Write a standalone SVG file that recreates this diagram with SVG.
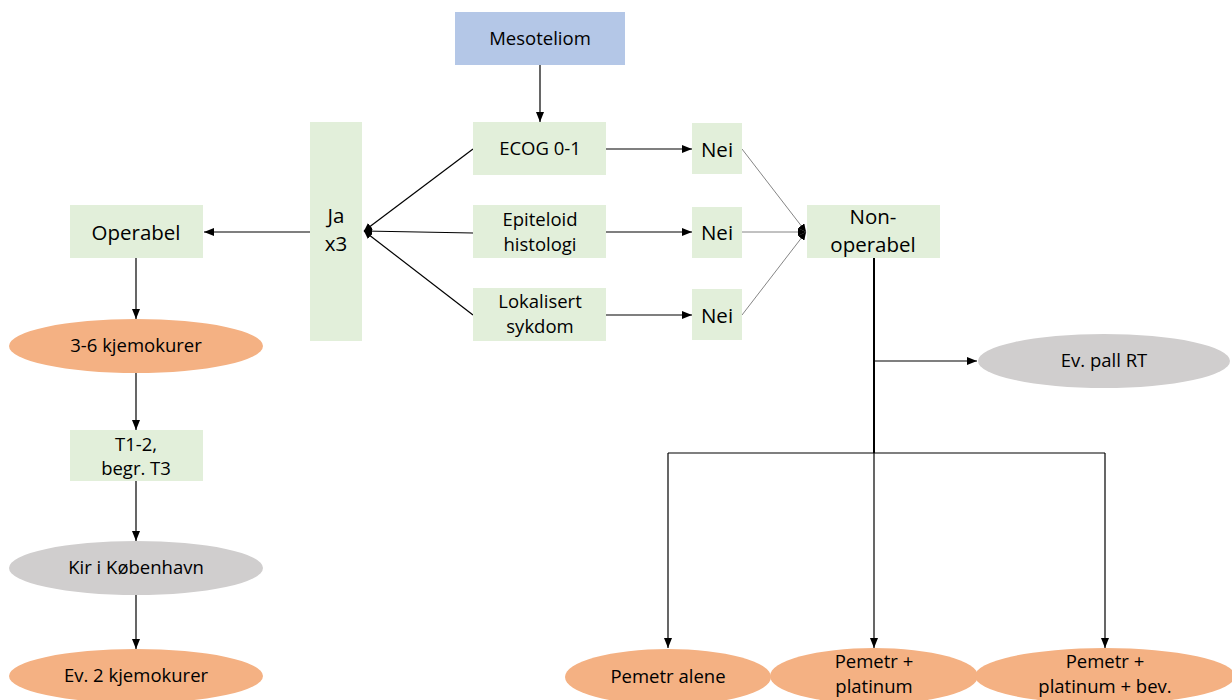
<svg xmlns="http://www.w3.org/2000/svg" width="1232" height="700" viewBox="0 0 1232 700">
<defs>
<marker id="ah" markerWidth="10" markerHeight="8" refX="10" refY="4" orient="auto" markerUnits="userSpaceOnUse"><path d="M0,0 L10,4 L0,8 z" fill="#000"/></marker>
<marker id="ahg" markerWidth="8" markerHeight="8" refX="8" refY="4" orient="auto" markerUnits="userSpaceOnUse"><path d="M0,0 L8,4 L0,8 z" fill="#000"/></marker>
</defs>
<style>
text{font-family:"Open Sans","Liberation Sans",sans-serif;fill:#000;text-anchor:middle}
.g{fill:#e2efda}
.b{fill:#b4c7e7}
.o{fill:#f4b183}
.gr{fill:#d0cece}
.c{stroke:#000;stroke-width:1.2;fill:none}
.t{stroke:#777;stroke-width:0.9;fill:none}
.k{stroke:#000;stroke-width:2;fill:none}
.s{font-size:18.5px}
.m{font-size:18.5px}
.l{font-size:20.5px}
</style>
<rect width="1232" height="700" fill="#fff"/>
<g id="connectors">
<line class="c" x1="540" y1="65" x2="540" y2="122" marker-end="url(#ah)"/>
<line class="c" x1="606" y1="149" x2="692" y2="149" marker-end="url(#ah)"/>
<line class="c" x1="606" y1="232" x2="692" y2="232" marker-end="url(#ah)"/>
<line class="c" x1="606" y1="315" x2="692" y2="315" marker-end="url(#ah)"/>
<line class="c" x1="473" y1="149" x2="364" y2="231" marker-end="url(#ahg)"/>
<line class="c" x1="473" y1="233" x2="364" y2="231" marker-end="url(#ahg)"/>
<line class="c" x1="473" y1="315" x2="364" y2="231" marker-end="url(#ahg)"/>
<line class="c" x1="310" y1="232" x2="204" y2="232" marker-end="url(#ah)"/>
<line class="t" x1="742" y1="149" x2="806" y2="232" marker-end="url(#ahg)"/>
<line class="t" x1="742" y1="232" x2="806" y2="232" marker-end="url(#ahg)"/>
<line class="t" x1="742" y1="315" x2="806" y2="232" marker-end="url(#ahg)"/>
<line class="k" x1="874" y1="258" x2="874" y2="453"/>
<line class="c" x1="874" y1="361" x2="977" y2="361" marker-end="url(#ah)"/>
<line class="c" x1="668" y1="453" x2="1105" y2="453"/>
<line class="c" x1="668" y1="453" x2="668" y2="648" marker-end="url(#ah)"/>
<line class="c" x1="874" y1="453" x2="874" y2="648" marker-end="url(#ah)"/>
<line class="c" x1="1105" y1="453" x2="1105" y2="648" marker-end="url(#ah)"/>
<line class="c" x1="136" y1="258" x2="136" y2="319" marker-end="url(#ah)"/>
<line class="c" x1="136" y1="373" x2="136" y2="430" marker-end="url(#ah)"/>
<line class="c" x1="136" y1="481" x2="136" y2="541" marker-end="url(#ah)"/>
<line class="c" x1="136" y1="595" x2="136" y2="649" marker-end="url(#ah)"/>
</g>
<g id="mesoteliom"><rect class="b" x="455" y="12" width="170" height="53"/><text class="m" x="540" y="45">Mesoteliom</text></g>
<g id="ecog"><rect class="g" x="473" y="122" width="133" height="53"/><text class="s" x="540" y="155">ECOG 0-1</text></g>
<g id="epiteloid"><rect class="g" x="473" y="205" width="133" height="53"/><text class="s" x="540" y="226">Epiteloid</text><text class="s" x="540" y="251">histologi</text></g>
<g id="lokalisert"><rect class="g" x="473" y="288" width="133" height="53"/><text class="s" x="540" y="308">Lokalisert</text><text class="s" x="540" y="333">sykdom</text></g>
<g id="ja"><rect class="g" x="310" y="122" width="52" height="219"/><text class="l" x="336" y="223">Ja</text><text class="l" x="336" y="251">x3</text></g>
<g id="nei1"><rect class="g" x="692" y="123" width="50" height="51"/><text class="l" x="717" y="157">Nei</text></g>
<g id="nei2"><rect class="g" x="692" y="207" width="50" height="51"/><text class="l" x="717" y="240">Nei</text></g>
<g id="nei3"><rect class="g" x="692" y="289" width="50" height="51"/><text class="l" x="717" y="323">Nei</text></g>
<g id="nonoperabel"><rect class="g" x="807" y="205" width="133" height="53"/><text class="l" x="873" y="224">Non-</text><text class="l" x="873" y="252">operabel</text></g>
<g id="operabel"><rect class="g" x="70" y="205" width="133" height="53"/><text class="l" x="136" y="240">Operabel</text></g>
<g id="kjemo36"><ellipse class="o" cx="136" cy="346" rx="127" ry="27"/><text class="m" x="136" y="352">3-6 kjemokurer</text></g>
<g id="t12"><rect class="g" x="70" y="430" width="133" height="51"/><text class="s" x="136" y="451">T1-2,</text><text class="s" x="136" y="475">begr. T3</text></g>
<g id="kir"><ellipse class="gr" cx="136" cy="568" rx="127" ry="27"/><text class="m" x="136" y="574">Kir i København</text></g>
<g id="ev2"><ellipse class="o" cx="136" cy="676" rx="127" ry="27"/><text class="m" x="136" y="682">Ev. 2 kjemokurer</text></g>
<g id="pallrt"><ellipse class="gr" cx="1104" cy="361" rx="126" ry="27"/><text class="m" x="1104" y="367">Ev. pall RT</text></g>
<g id="pemetralene"><ellipse class="o" cx="668" cy="677" rx="103" ry="28"/><text class="m" x="668" y="683">Pemetr alene</text></g>
<g id="pemetrplat"><ellipse class="o" cx="874" cy="676" rx="104" ry="28"/><text class="m" x="874" y="668">Pemetr +</text><text class="m" x="874" y="693">platinum</text></g>
<g id="pemetrbev"><ellipse class="o" cx="1105" cy="676" rx="130" ry="28"/><text class="m" x="1105" y="668">Pemetr +</text><text class="m" x="1105" y="693">platinum + bev.</text></g>
</svg>
